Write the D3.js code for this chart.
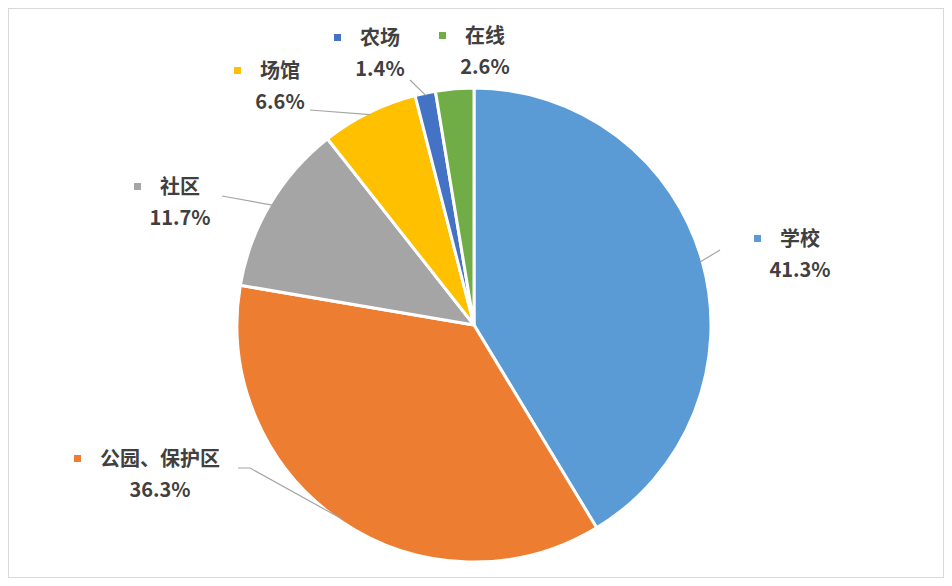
<!DOCTYPE html>
<html><head><meta charset="utf-8">
<script src="https://cdn.jsdelivr.net/npm/d3@7"></script>
<style>body{margin:0;background:#fff}text{font-family:"Noto Sans CJK SC","Noto Sans",sans-serif;font-weight:bold;fill:#404040}</style>
</head><body>
<svg id="chart" width="952" height="586"></svg>
<script>
const categories = ["学校", "公园、保护区", "社区", "场馆", "农场", "在线"];
const values = [41.3, 36.3, 11.7, 6.6, 1.4, 2.6];
const colors = ["#5B9BD5", "#ED7D31", "#A5A5A5", "#FFC000", "#4472C4", "#70AD47"];
// label layout: text centre x, first line y, leader end point
const labelPos = [
  {x: 800, y: 241, lx: 720, ly: 250},
  {x: 160, y: 461, lx: 250, ly: 468},
  {x: 180, y: 189, lx: 222, ly: 196},
  {x: 280, y: 73, lx: 310, ly: 110},
  {x: 380, y: 40, lx: 410, ly: 80},
  {x: 485, y: 38, lx: 485, ly: 38}
];

const svg = d3.select("#chart");
svg.append("rect").attr("x", 8.5).attr("y", 8.5).attr("width", 935).attr("height", 569)
  .attr("fill", "none").attr("stroke", "#d9d9d9");

const cx = 474, cy = 325, r = 237;
const g = svg.append("g").attr("transform", `translate(${cx},${cy})`);
const pie = d3.pie().sort(null).value(d => d)(values);
const arc = d3.arc().innerRadius(0).outerRadius(r);
const edge = d3.arc().innerRadius(r).outerRadius(r);

g.selectAll("path").data(pie).join("path")
  .attr("d", arc).attr("fill", (d, i) => colors[i])
  .attr("stroke", "#fff").attr("stroke-width", 3).attr("stroke-linejoin", "round");

// leader lines (not for 在线)
pie.forEach((d, i) => {
  if (i === 5) return;
  const [ex, ey] = edge.centroid(d);
  const p = labelPos[i];
  const x1 = cx + ex * 0.99, y1 = cy + ey * 0.99;
  let pts;
  if (i === 0) pts = [[x1, y1], [p.lx, p.ly]];
  else if (i === 1) pts = [[x1, y1], [p.lx, p.ly], [238, p.ly]];
  else if (i === 2) pts = [[x1, y1], [p.lx, p.ly]];
  else pts = [[x1, y1], [p.lx, p.ly]];
  svg.append("path").attr("d", d3.line()(pts)).attr("fill", "none")
    .attr("stroke", "#a6a6a6").attr("stroke-width", 1.2);
});

categories.forEach((c, i) => {
  const p = labelPos[i];
  const t = svg.append("text").attr("x", p.x).attr("y", p.y).attr("text-anchor", "middle")
    .attr("font-size", 20).attr("dominant-baseline", "middle").text(c);
  const w = t.node().getComputedTextLength();
  svg.append("rect").attr("x", p.x - w / 2 - 26).attr("y", p.y - 6).attr("width", 7).attr("height", 7)
    .attr("fill", colors[i]);
  svg.append("text").attr("x", p.x).attr("y", p.y + 31).attr("text-anchor", "middle")
    .attr("font-size", 20).attr("dominant-baseline", "middle").text(values[i].toFixed(1) + "%");
});
</script>
</body></html>
